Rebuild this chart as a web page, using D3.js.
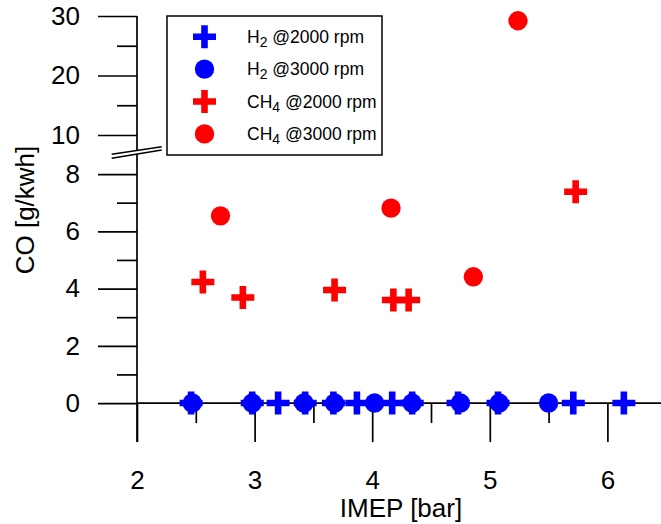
<!DOCTYPE html>
<html>
<head>
<meta charset="utf-8">
<script src="https://cdn.jsdelivr.net/npm/d3@7"></script>
<style>
  body { margin: 0; background: #fff; }
  text { font-family: "Liberation Sans", Arial, sans-serif; fill: #000; }
</style>
</head>
<body>
<div id="chart"></div>
<script>
// Data
const h2_2000_x = [2.46, 2.98, 3.20, 3.43, 3.67, 3.87, 4.17, 4.34, 4.73, 5.07, 5.71, 6.14];
const h2_2000_y = [0, 0, 0, 0, 0, 0, 0, 0, 0, 0, 0, 0];
const h2_3000_x = [2.47, 2.98, 3.42, 3.68, 4.02, 4.34, 4.75, 5.08, 5.50];
const h2_3000_y = [0, 0, 0, 0, 0, 0, 0, 0, 0];
const ch4_2000_x = [2.56, 2.90, 3.68, 4.18, 4.31, 5.73];
const ch4_2000_y = [4.23, 3.69, 3.95, 3.60, 3.60, 7.38];
const ch4_3000_x = [2.71, 4.16, 4.86, 5.24];
const ch4_3000_y = [6.54, 6.81, 4.41, 29.2];

const xTicks = [2, 3, 4, 5, 6];
const xMinor = [2.5, 3.5, 4.5, 5.5];
const yLowTicks = [0, 2, 4, 6, 8];
const yLowMinor = [1, 3, 5, 7];
const yHighTicks = [10, 20, 30];
const yHighMinor = [15, 25];

const series = [
  { name: "H", sub: "2", rest: " @2000 rpm", xs: h2_2000_x, ys: h2_2000_y, color: "#0000ff", shape: "cross" },
  { name: "H", sub: "2", rest: " @3000 rpm", xs: h2_3000_x, ys: h2_3000_y, color: "#0000ff", shape: "circle" },
  { name: "CH", sub: "4", rest: " @2000 rpm", xs: ch4_2000_x, ys: ch4_2000_y, color: "#ff0000", shape: "cross" },
  { name: "CH", sub: "4", rest: " @3000 rpm", xs: ch4_3000_x, ys: ch4_3000_y, color: "#ff0000", shape: "circle" },
];

// Dimensions
const width = 661, height = 524;
const breakY = 152;

const svg = d3.select("#chart").append("svg")
  .attr("width", width).attr("height", height);

// Scales
const xScale = d3.scaleLinear().domain([2, 6.5]).range([137, 666.2]);
const yLow = d3.scaleLinear().domain([-1.36, 8.77]).range([442, breakY]);
const yHigh = d3.scaleLinear().domain([7.14, 30]).range([breakY, 16]);
const yPos = (v) => (v > 9 ? yHigh(v) : yLow(v));

const lw = 1.7;

// Axes
function styleAxis(g) {
  g.select(".domain").remove();
  g.selectAll("line").attr("stroke", "#000").attr("stroke-width", lw);
  g.selectAll("text").style("font-size", "26px")
    .style("font-family", "'Liberation Sans', Arial, sans-serif");
}

svg.append("g").attr("transform", `translate(137,0)`)
  .call(d3.axisLeft(yLow).tickValues(yLowTicks).tickSize(39).tickPadding(18).tickFormat(d3.format("d")))
  .call(styleAxis);
svg.append("g").attr("transform", `translate(137,0)`)
  .call(d3.axisLeft(yLow).tickValues(yLowMinor).tickSize(20).tickFormat(""))
  .call(styleAxis);
svg.append("g").attr("transform", `translate(137,0)`)
  .call(d3.axisLeft(yHigh).tickValues(yHighTicks).tickSize(39).tickPadding(18).tickFormat(d3.format("d")))
  .call(styleAxis);
svg.append("g").attr("transform", `translate(137,0)`)
  .call(d3.axisLeft(yHigh).tickValues(yHighMinor).tickSize(20).tickFormat(""))
  .call(styleAxis);

svg.append("g").attr("transform", `translate(0,${yLow(0)})`)
  .call(d3.axisBottom(xScale).tickValues(xTicks).tickSize(39).tickPadding(28).tickFormat(d3.format("d")))
  .call(styleAxis);
svg.append("g").attr("transform", `translate(0,${yLow(0)})`)
  .call(d3.axisBottom(xScale).tickValues(xMinor).tickSize(20).tickFormat(""))
  .call(styleAxis);

// x axis line at y = 0
svg.append("line")
  .attr("x1", 137).attr("x2", xScale.range()[1])
  .attr("y1", yLow(0)).attr("y2", yLow(0))
  .attr("stroke", "#000").attr("stroke-width", lw);

// y axis line
svg.append("line")
  .attr("x1", 137).attr("x2", 137)
  .attr("y1", yHigh(30)).attr("y2", 442)
  .attr("stroke", "#000").attr("stroke-width", lw);

// axis break
svg.append("path")
  .attr("d", "M111.7,154.3 L161.7,146.7 L161.7,150 L111.7,158.3 Z")
  .attr("fill", "#fff");
svg.append("line").attr("x1", 111.7).attr("y1", 154.3).attr("x2", 161.7).attr("y2", 146.7)
  .attr("stroke", "#000").attr("stroke-width", 1.5);
svg.append("line").attr("x1", 111.7).attr("y1", 158.3).attr("x2", 161.7).attr("y2", 150)
  .attr("stroke", "#000").attr("stroke-width", 1.5);

// Axis titles
svg.append("text")
  .attr("transform", `translate(34,210) rotate(-90)`)
  .attr("text-anchor", "middle")
  .style("font-size", "26px")
  .text("CO [g/kwh]");
svg.append("text")
  .attr("x", 401).attr("y", 517)
  .attr("text-anchor", "middle")
  .style("font-size", "26px")
  .text("IMEP [bar]");

// Markers
const crossPath = (s, t) =>
  `M${-t},${-s}H${t}V${-t}H${s}V${t}H${t}V${s}H${-t}V${t}H${-s}V${-t}H${-t}Z`;

function drawMarker(g, shape, color, x, y) {
  if (shape === "cross") {
    g.append("path")
      .attr("d", crossPath(11.5, 3.3))
      .attr("transform", `translate(${x},${y})`)
      .attr("fill", color);
  } else {
    g.append("circle")
      .attr("cx", x).attr("cy", y).attr("r", 9.7)
      .attr("fill", color);
  }
}

const marks = svg.append("g");
series.forEach((s) => {
  s.xs.forEach((xv, i) => {
    drawMarker(marks, s.shape, s.color, xScale(xv), yPos(s.ys[i]));
  });
});

// Legend
const legend = svg.append("g");
legend.append("rect")
  .attr("x", 167).attr("y", 16).attr("width", 215).attr("height", 139)
  .attr("fill", "#fff").attr("stroke", "#000").attr("stroke-width", 1.5);

series.forEach((s, i) => {
  const cy = 36.7 + i * 32.4;
  drawMarker(legend, s.shape, s.color, 204.5, cy);
  const t = legend.append("text")
    .attr("x", 247).attr("y", cy + 6)
    .style("font-size", "17.5px");
  t.append("tspan").text(s.name);
  t.append("tspan").attr("dy", 4).style("font-size", "14px").text(s.sub);
  t.append("tspan").attr("dy", -4).text(s.rest);
});
</script>
</body>
</html>
